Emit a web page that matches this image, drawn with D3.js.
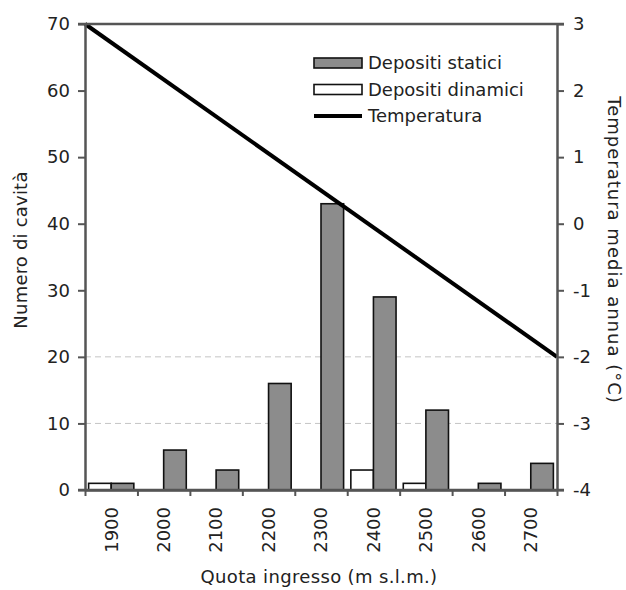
<html lang="it">

<head>
  <meta charset="utf-8">
  <title>Cavità per quota</title>
  <script type="text/javascript" src="https://d3js.org/d3.v7.min.js"></script>
  <style>
    body { margin: 0; background: #fff; }
    text { font-family: "DejaVu Sans", Verdana, sans-serif; fill: #222; }
  </style>
</head>

<body>
  <svg width="626" height="590"></svg>
  <script>
    const quote = ["1900", "2000", "2100", "2200", "2300", "2400", "2500", "2600", "2700"];
    const statici = [1, 6, 3, 16, 43, 29, 12, 1, 4];
    const dinamici = [1, 0, 0, 0, 0, 3, 1, 0, 0];
    const tempQuota = [1850, 2750];
    const temperatura = [3, -2];
    const yTicks = [0, 10, 20, 30, 40, 50, 60, 70];
    const tTicks = [3, 2, 1, 0, -1, -2, -3, -4];
    const gridValues = [10, 20];

    const svg = d3.select("svg");
    const pLeft = 85, pRight = 557, pTop = 24, pBottom = 490;

    const x0 = d3.scaleBand().domain(quote).range([pLeft, pRight]);
    const x1 = d3.scaleBand().domain(["dinamici", "statici"])
      .range([0, x0.bandwidth()]).paddingOuter(0.16);
    const xLin = d3.scaleLinear().domain([1850, 2750]).range([pLeft, pRight]);
    const y = d3.scaleLinear().domain([0, 70]).range([pBottom, pTop]);
    const yT = d3.scaleLinear().domain([-4, 3]).range([pBottom, pTop]);

    // gridlines
    svg.append("g").selectAll("line")
      .data(gridValues)
      .enter()
      .append("line")
      .attr("x1", pLeft).attr("x2", pRight)
      .attr("y1", d => y(d)).attr("y2", d => y(d))
      .attr("stroke", "#c4c4c4")
      .attr("stroke-dasharray", "6,4");

    // bars
    const rows = quote.map((q, i) => ({ q: q, dinamici: dinamici[i], statici: statici[i] }));
    const groups = svg.append("g").selectAll("g")
      .data(rows)
      .enter()
      .append("g")
      .attr("transform", d => "translate(" + x0(d.q) + ",0)");

    groups.selectAll("rect")
      .data(d => ["dinamici", "statici"].map(k => ({ k: k, v: d[k] })).filter(e => e.v > 0))
      .enter()
      .append("rect")
      .attr("x", d => x1(d.k))
      .attr("width", x1.bandwidth())
      .attr("y", d => y(d.v))
      .attr("height", d => y(0) - y(d.v))
      .attr("fill", d => d.k === "statici" ? "#8c8c8c" : "#fff")
      .attr("stroke", "#111")
      .attr("stroke-width", 1.6);

    // temperature line
    const line = d3.line()
      .x(d => xLin(d[0]))
      .y(d => yT(d[1]));
    svg.append("path")
      .datum(tempQuota.map((q, i) => [q, temperatura[i]]))
      .attr("d", line)
      .attr("fill", "none")
      .attr("stroke", "#000")
      .attr("stroke-width", 4);

    // axes
    const axisColor = "#555";
    const gl = svg.append("g")
      .attr("transform", "translate(" + pLeft + ",0)")
      .call(d3.axisLeft(y).tickValues(yTicks).tickSize(7).tickSizeOuter(0).tickPadding(8));
    const gr = svg.append("g")
      .attr("transform", "translate(" + pRight + ",0)")
      .call(d3.axisRight(yT).tickValues(tTicks).tickSize(7).tickSizeOuter(0).tickPadding(9)
        .tickFormat(d => d < 0 ? "-" + Math.abs(d) : d));
    const gb = svg.append("g")
      .attr("transform", "translate(0," + pBottom + ")")
      .call(d3.axisBottom(xLin).tickValues(d3.range(1850, 2751, 100)).tickSize(6)
        .tickSizeOuter(0).tickFormat(""));
    const gbl = svg.append("g")
      .attr("transform", "translate(0," + pBottom + ")")
      .call(d3.axisBottom(x0).tickSize(0).tickSizeOuter(0));
    gbl.select(".domain").remove();
    gbl.selectAll("text")
      .attr("transform", "rotate(-90)")
      .attr("text-anchor", "end")
      .attr("x", -17)
      .attr("y", 0)
      .attr("dy", "0.35em");

    [gl, gr, gb].forEach(g => {
      g.select(".domain").attr("stroke", axisColor).attr("stroke-width", 2.5);
      g.selectAll(".tick line").attr("stroke", axisColor).attr("stroke-width", 2);
    });
    svg.selectAll(".tick text").style("font-size", "18px").attr("fill", "#222");

    // top and bottom border
    svg.append("line")
      .attr("x1", pLeft - 7).attr("x2", pRight + 7)
      .attr("y1", pTop).attr("y2", pTop)
      .attr("stroke", axisColor)
      .attr("stroke-width", 2.5);
    svg.append("line")
      .attr("x1", pLeft - 7).attr("x2", pRight + 7)
      .attr("y1", pBottom).attr("y2", pBottom)
      .attr("stroke", axisColor)
      .attr("stroke-width", 2.5);

    // axis titles
    svg.append("text")
      .attr("transform", "translate(21,250) rotate(-90)")
      .attr("text-anchor", "middle")
      .attr("dy", "0.35em")
      .style("font-size", "18px")
      .style("letter-spacing", "0.2px")
      .text("Numero di cavità");
    svg.append("text")
      .attr("transform", "translate(614,250) rotate(90)")
      .attr("text-anchor", "middle")
      .attr("dy", "0.35em")
      .style("font-size", "18px")
      .style("letter-spacing", "1px")
      .text("Temperatura media annua (°C)");
    svg.append("text")
      .attr("x", 319).attr("y", 583)
      .attr("text-anchor", "middle")
      .style("font-size", "18px")
      .style("letter-spacing", "0.35px")
      .text("Quota ingresso (m s.l.m.)");

    // legend
    const legend = [
      { label: "Depositi statici", type: "rect", fill: "#8c8c8c" },
      { label: "Depositi dinamici", type: "rect", fill: "#fff" },
      { label: "Temperatura", type: "line" }
    ];
    const lg = svg.append("g").selectAll("g")
      .data(legend)
      .enter()
      .append("g")
      .attr("transform", (d, i) => "translate(314," + (63 + i * 26.5) + ")");
    lg.filter(d => d.type === "rect").append("rect")
      .attr("x", 0).attr("y", -5)
      .attr("width", 48).attr("height", 10)
      .attr("fill", d => d.fill)
      .attr("stroke", "#111")
      .attr("stroke-width", 1.6);
    lg.filter(d => d.type === "line").append("line")
      .attr("x1", 0).attr("x2", 48)
      .attr("stroke", "#000")
      .attr("stroke-width", 4);
    lg.append("text")
      .attr("x", 54)
      .attr("dy", "0.35em")
      .style("font-size", "18px")
      .text(d => d.label);
  </script>
</body>

</html>
